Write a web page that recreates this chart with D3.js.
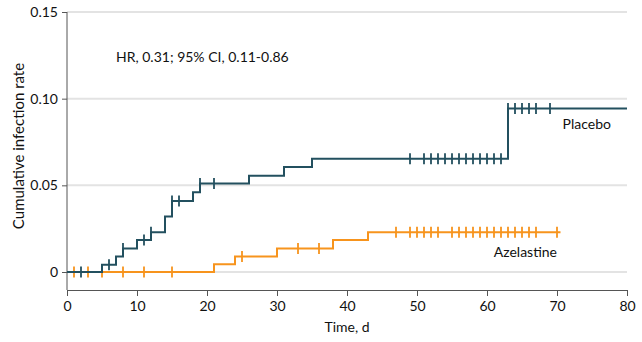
<!DOCTYPE html>
<html>
<head>
<meta charset="utf-8">
<script src="https://cdn.jsdelivr.net/npm/d3@7"></script>
<style>
  body { margin: 0; background: #fff; }
  text { font-family: Lato, "Open Sans", sans-serif; fill: #111; }
</style>
</head>
<body>
<div id="chart"></div>
<script>
// Kaplan-Meier style cumulative incidence
const placeboSteps = [
  [0, 0], [5, 0.0042], [7, 0.0089], [8, 0.0136], [10, 0.0184], [12, 0.023],
  [14, 0.032], [15, 0.041], [18, 0.046], [19, 0.051], [26, 0.0556],
  [31, 0.0606], [35, 0.0653], [63, 0.0943]
];
const placeboEnd = 80;
const placeboCensor = [2, 6, 8, 11, 12, 15, 16, 19, 21, 49, 51, 52, 53, 54, 55, 56, 57, 58, 59, 60, 61, 62, 63, 64, 65, 66, 67, 69];

const azelSteps = [
  [0, 0], [21, 0.0044], [24, 0.0089], [30, 0.0136], [38, 0.0184], [43, 0.023]
];
const azelEnd = 70.5;
const azelCensor = [1, 3, 5, 8, 11, 15, 25, 33, 36, 47, 49, 50, 51, 52, 53, 55, 56, 57, 58, 59, 60, 61, 62, 63, 64, 65, 66, 67, 70];

const xTicks = [0, 10, 20, 30, 40, 50, 60, 70, 80];
const yTicks = [0, 0.05, 0.10, 0.15];

const margin = { top: 12, left: 67, right: 15, bottom: 52 },
  width = 642 - margin.left - margin.right,
  height = 342 - margin.top - margin.bottom;

const svg = d3.select("#chart").append("svg")
  .attr("width", 642).attr("height", 342);
const g = svg.append("g")
  .attr("transform", "translate(" + margin.left + "," + margin.top + ")");

const x = d3.scaleLinear().domain([0, 80]).range([0, width]);
// y range leaves a gap below 0 before the x axis
const y = d3.scaleLinear().domain([0, 0.15]).range([height - 18, 0]);

// gridlines
g.selectAll(".grid").data(yTicks).enter().append("line")
  .attr("x1", 0).attr("x2", width)
  .attr("y1", d => y(d)).attr("y2", d => y(d))
  .attr("stroke", "#e3e3e3").attr("stroke-width", 2);

// axes
const yAxis = g.append("g")
  .call(d3.axisLeft(y).tickValues(yTicks).tickSize(5).tickSizeOuter(0)
    .tickFormat(d => d === 0 ? "0" : d3.format(".2f")(d)));
yAxis.select(".domain").attr("d", "M0,0V" + height).attr("stroke", "#555");
yAxis.selectAll(".tick line").attr("stroke", "#555");
yAxis.selectAll("text").style("font-size", "14px").attr("x", -9);

const xAxis = g.append("g")
  .attr("transform", "translate(0," + height + ")")
  .call(d3.axisBottom(x).tickValues(xTicks).tickSize(6).tickSizeOuter(0));
xAxis.select(".domain").attr("stroke", "#555");
xAxis.selectAll(".tick line").attr("stroke", "#555");
xAxis.selectAll("text").style("font-size", "14px").attr("y", 11);

// step curves
const line = d3.line().x(d => x(d[0])).y(d => y(d[1])).curve(d3.curveStepAfter);
function levelAt(steps, t) {
  let v = 0;
  steps.forEach(s => { if (s[0] <= t) v = s[1]; });
  return v;
}

const series = [
  { steps: placeboSteps, end: placeboEnd, censor: placeboCensor, color: "#23505f" },
  { steps: azelSteps, end: azelEnd, censor: azelCensor, color: "#f7941d" }
];

series.slice().reverse().forEach(s => {
  const pts = s.steps.concat([[s.end, s.steps[s.steps.length - 1][1]]]);
  g.append("path")
    .attr("fill", "none")
    .attr("stroke", s.color)
    .attr("stroke-width", 2)
    .attr("d", line(pts));
  g.selectAll(null).data(s.censor).enter().append("line")
    .attr("x1", d => x(d)).attr("x2", d => x(d))
    .attr("y1", d => y(levelAt(s.steps, d)) - 5.5)
    .attr("y2", d => y(levelAt(s.steps, d)) + 5.5)
    .attr("stroke", s.color).attr("stroke-width", 1.8);
});

// labels
g.append("text").attr("x", x(70.8)).attr("y", y(0.0943) + 20)
  .style("font-size", "14px").text("Placebo");
g.append("text").attr("x", x(70)).attr("y", y(0.023) + 24.5)
  .attr("text-anchor", "end").style("font-size", "14px").text("Azelastine");
g.append("text").attr("x", 49).attr("y", 50)
  .style("font-size", "14px").text("HR, 0.31; 95% CI, 0.11-0.86");

svg.append("text")
  .attr("transform", "translate(24,146) rotate(-90)")
  .attr("text-anchor", "middle").style("font-size", "15px")
  .text("Cumulative infection rate");
svg.append("text")
  .attr("x", margin.left + width / 2).attr("y", 332)
  .attr("text-anchor", "middle").style("font-size", "14px")
  .text("Time, d");
</script>
</body>
</html>
